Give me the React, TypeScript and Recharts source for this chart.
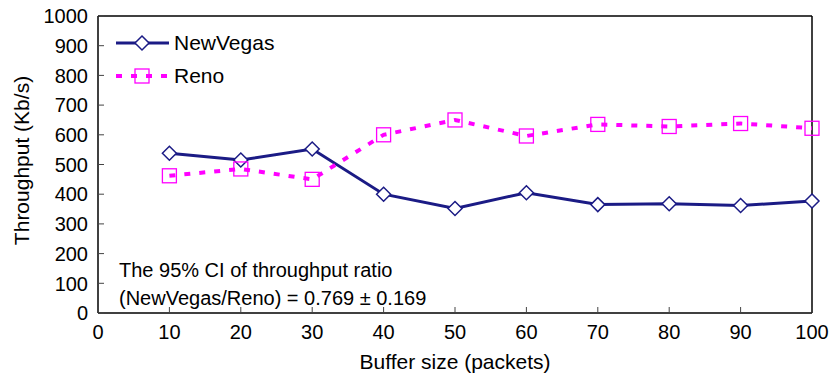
import { LineChart, Line, XAxis, YAxis, ReferenceLine } from "recharts";

const bufferSizes = [10, 20, 30, 40, 50, 60, 70, 80, 90, 100];
const newVegas = [538, 515, 552, 400, 352, 405, 365, 368, 362, 377];
const reno = [462, 485, 450, 600, 650, 596, 635, 628, 638, 622];
const xTicks = [0, 10, 20, 30, 40, 50, 60, 70, 80, 90, 100];
const yTicks = [0, 100, 200, 300, 400, 500, 600, 700, 800, 900, 1000];

const data = bufferSizes.map((b, i) => ({ buffer: b, newVegas: newVegas[i], reno: reno[i] }));

const NAVY = "#1b1b85";
const MAGENTA = "#ff00ff";
const FONT = "'Liberation Sans', Arial, sans-serif";

const Diamond = (props: any) => {
  const { cx, cy } = props;
  if (cx == null || cy == null) return null;
  const r = 7;
  return <path d={`M${cx},${cy - r}L${cx + r},${cy}L${cx},${cy + r}L${cx - r},${cy}Z`} fill="#fff" stroke={NAVY} strokeWidth={1.5} />;
};

const Square = (props: any) => {
  const { cx, cy } = props;
  if (cx == null || cy == null) return null;
  return <rect x={cx - 7} y={cy - 7} width={14} height={14} fill="none" stroke={MAGENTA} strokeWidth={1.3} />;
};

const YTick = (props: any) => {
  const { x, y, payload } = props;
  return <g>
    <line x1={x + 10} x2={x + 16} y1={y} y2={y} stroke="#444" />
    <text x={x} y={y} dy="0.36em" textAnchor="end" fontSize={20} fill="#000" fontFamily={FONT}>{payload.value}</text>
  </g>;
};

const XTick = (props: any) => {
  const { x, y, payload } = props;
  return <g>
    <line x1={x} x2={x} y1={y - 11} y2={y - 17} stroke="#444" />
    <text x={x} y={y} dy="0.75em" textAnchor="middle" fontSize={20} fill="#000" fontFamily={FONT}>{payload.value}</text>
  </g>;
};

const LegendBox = () => (
  <div style={{ fontFamily: FONT, fontSize: 21, color: "#000" }}>
    <div style={{ display: "flex", alignItems: "center", height: 33 }}>
      <svg width={58} height={20}>
        <line x1={2} x2={55} y1={10} y2={10} stroke={NAVY} strokeWidth={3} />
        <Diamond cx={28} cy={10} />
      </svg>
      <span style={{ marginLeft: 2 }}>NewVegas</span>
    </div>
    <div style={{ display: "flex", alignItems: "center", height: 33 }}>
      <svg width={58} height={20}>
        <line x1={2} x2={55} y1={10} y2={10} stroke={MAGENTA} strokeWidth={4} strokeDasharray="6 9" />
        <Square cx={28} cy={10} />
      </svg>
      <span style={{ marginLeft: 2 }}>Reno</span>
    </div>
  </div>
);

export default function App() {
  return (
    <div style={{ position: "absolute", left: 0, top: 0, width: 832, height: 374, background: "#fff" }}>
      <LineChart width={832} height={374} data={data} margin={{ top: 16, right: 20, bottom: 0, left: 0 }}>
        <XAxis
          dataKey="buffer"
          type="number"
          domain={[0, 100]}
          ticks={xTicks}
          interval={0}
          height={61}
          tickSize={0}
          tickMargin={11}
          tick={<XTick />}
          stroke="#000"
          strokeWidth={1.5}
          label={{ value: "Buffer size (packets)", position: "insideBottom", offset: 5, fontSize: 21, fill: "#000", fontFamily: FONT }}
        />
        <YAxis
          type="number"
          domain={[0, 1000]}
          ticks={yTicks}
          interval={0}
          width={98}
          tickSize={0}
          tickMargin={10}
          tick={<YTick />}
          stroke="#000"
          strokeWidth={1.5}
          label={{ value: "Throughput (Kb/s)", angle: -90, position: "insideLeft", offset: 22, dy: -4, fontSize: 21, fill: "#000", fontFamily: FONT, style: { textAnchor: "middle" } }}
        />
        <ReferenceLine y={1000} stroke="#000" strokeWidth={1.5} />
        <ReferenceLine x={100} stroke="#000" strokeWidth={1.5} />
        <Line type="linear" dataKey="newVegas" name="NewVegas" stroke={NAVY} strokeWidth={3} dot={<Diamond />} activeDot={false} isAnimationActive={false} />
        <Line type="linear" dataKey="reno" name="Reno" stroke={MAGENTA} strokeWidth={4} strokeDasharray="6 9" dot={<Square />} activeDot={false} isAnimationActive={false} />
      </LineChart>
      <div style={{ position: "absolute", left: 114, top: 26 }}>
        <LegendBox />
      </div>
      <div style={{ position: "absolute", left: 119, top: 256, fontFamily: FONT, fontSize: 20, lineHeight: "28px", color: "#000", whiteSpace: "nowrap" }}>
        <div>The 95% CI of throughput ratio</div>
        <div>(NewVegas/Reno) = 0.769 ± 0.169</div>
      </div>
    </div>
  );
}
